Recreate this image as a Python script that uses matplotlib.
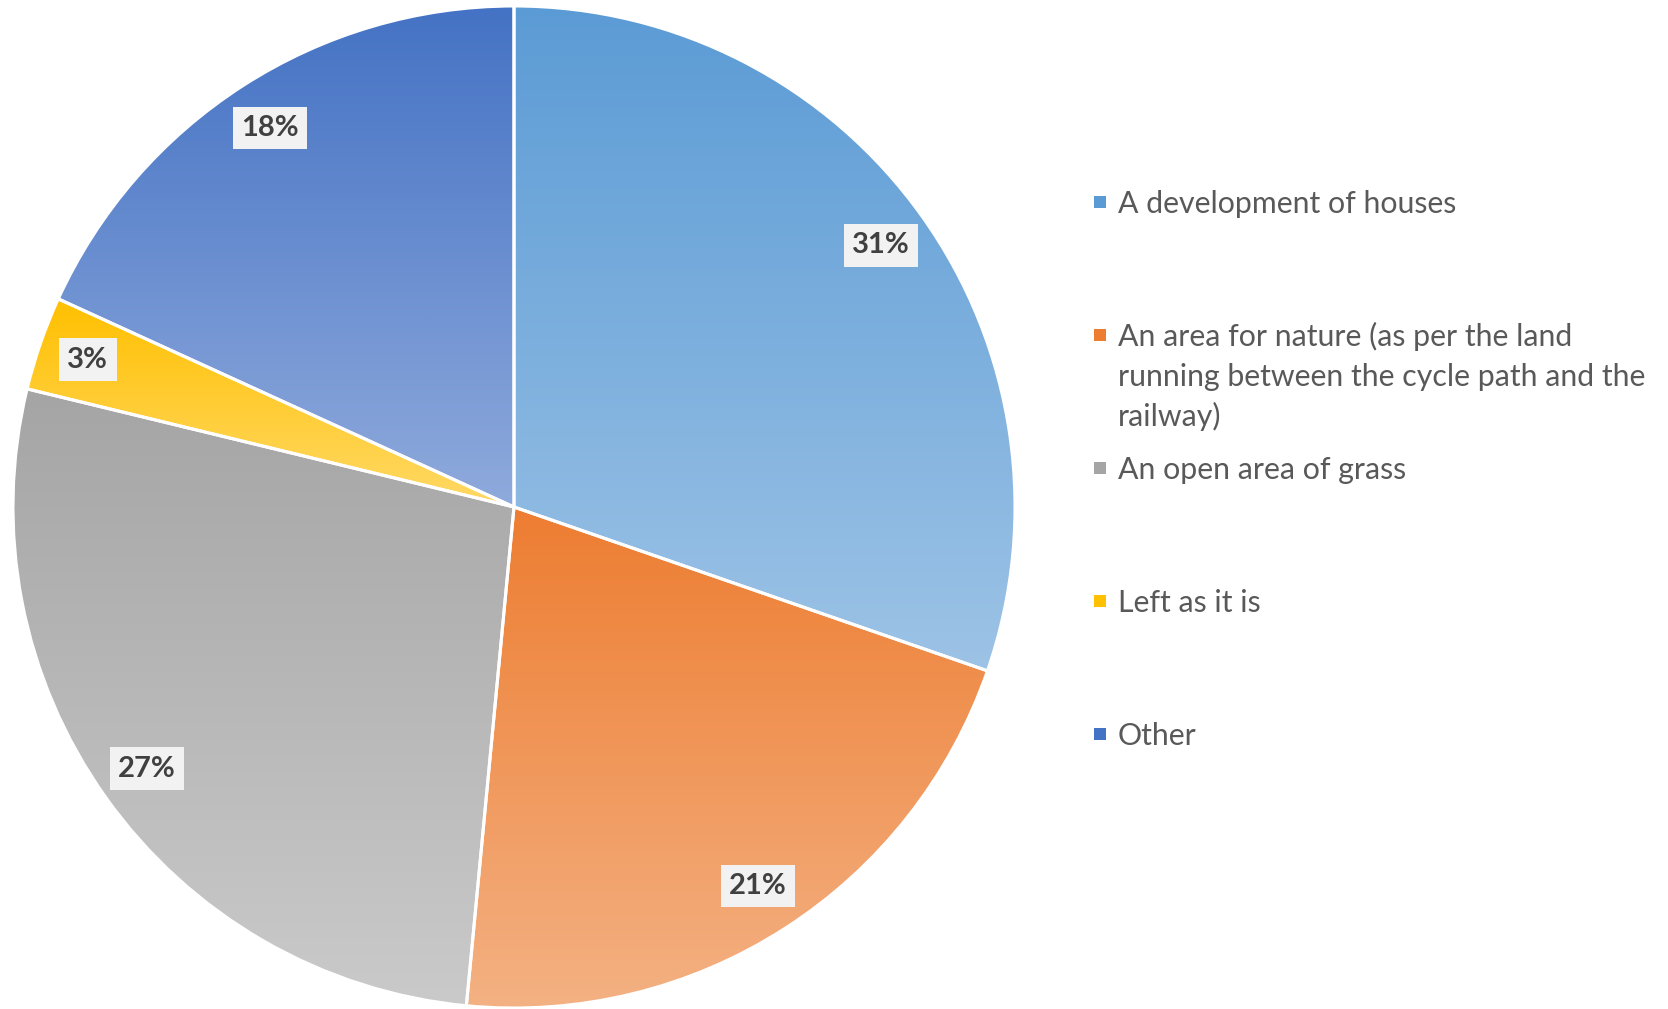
import matplotlib.pyplot as plt
import numpy as np
from matplotlib.colors import LinearSegmentedColormap

plt.rcParams["font.family"] = ["Lato", "DejaVu Sans"]

# survey responses (counts) and the percentage labels shown on the chart
categories = [
    "A development of houses",
    "An area for nature (as per the land\nrunning between the cycle path and the\nrailway)",
    "An open area of grass",
    "Left as it is",
    "Other",
]
counts = [30, 21, 27, 3, 18]
pct_labels = ["31%", "21%", "27%", "3%", "18%"]

# gradient colours per slice: (top, bottom)
grads = [
    ("#5B9BD5", "#9DC3E6"),
    ("#ED7D31", "#F4B183"),
    ("#A5A5A5", "#CACACA"),
    ("#FFC000", "#FFD966"),
    ("#4472C4", "#8FAADC"),
]

W, H = 1668, 1009
fig = plt.figure(figsize=(W / 100, H / 100), dpi=100)
ax = fig.add_axes([0, 0, 1, 1])

cx, cy, R = 514, H - 507, 501

wedges, texts = ax.pie(
    counts,
    labels=pct_labels,
    startangle=90,
    counterclock=False,
    radius=R,
    center=(cx, cy),
    labeldistance=0.9,
    wedgeprops=dict(edgecolor="white", linewidth=2.2, facecolor="none", zorder=3),
    frame=True,
)
ax.set_xlim(0, W)
ax.set_ylim(0, H)
ax.set_aspect("equal")
ax.axis("off")

grad = np.linspace(0, 1, 256).reshape(-1, 1)
for w, (top, bot) in zip(wedges, grads):
    ext = w.get_path().get_extents()
    cmap = LinearSegmentedColormap.from_list("g", [top, bot])
    im = ax.imshow(
        grad,
        cmap=cmap,
        extent=(ext.x0, ext.x1, ext.y0, ext.y1),
        origin="upper",
        aspect="auto",
        zorder=1,
        interpolation="bilinear",
    )
    im.set_clip_path(w)

for t in texts:
    t.set_ha("center")
    t.set_va("center")
    t.set_fontsize(21)
    t.set_fontweight("bold")
    t.set_color("#404040")
    t.set_zorder(5)
    t.set_bbox(dict(facecolor="#F2F2F2", edgecolor="none", boxstyle="square,pad=0.28"))

# legend drawn by hand so entries sit at equal spacing like the original
leg_y0, leg_step, line_h = H - 202, 133, 40
for i, (lab, (top, bot)) in enumerate(zip(categories, grads)):
    y = leg_y0 - i * leg_step
    ax.scatter([1100], [y], marker="s", s=75, color=top, zorder=5, linewidths=0)
    for j, line in enumerate(lab.split("\n")):
        ax.text(1118, y - 11 - j * line_h, line, ha="left", va="baseline",
                fontsize=21.8, color="#595959")

fig.savefig("out.png", dpi=100)
